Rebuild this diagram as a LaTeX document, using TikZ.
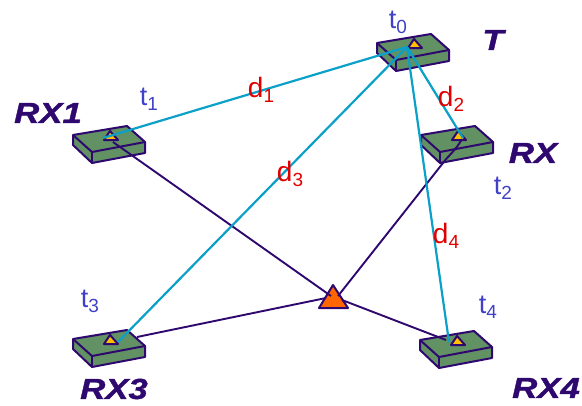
\documentclass[tikz,border=0pt]{standalone}
\usepackage{fontspec}
\setmainfont{Liberation Sans}
\newfontfamily\devfont[FakeBold=1.2]{Liberation Sans}
\usepackage{xcolor}
\usetikzlibrary{positioning}
\definecolor{boxgreen}{RGB}{98,145,100}
\definecolor{darkviolet}{RGB}{46,8,110}
\definecolor{linkblue}{RGB}{10,160,200}
\definecolor{labelblue}{RGB}{64,64,200}
\definecolor{labelred}{RGB}{225,0,0}
\definecolor{antgold}{RGB}{255,192,0}
\definecolor{srcorange}{RGB}{255,102,0}
\newcommand{\lowidx}[2]{#1\raisebox{-0.18em}{\fontsize{19}{19}\selectfont #2}}
\tikzset{
  boxline/.style={draw=darkviolet, line width=2pt, line join=round, fill=boxgreen},
  antenna/.style={draw=darkviolet, line width=2pt, line join=round, fill=antgold},
  linkline/.style={linkblue, line width=2.2pt},
  pathline/.style={darkviolet, line width=1.9pt},
  timelabel/.style={labelblue, font=\fontsize{27}{27}\selectfont, inner sep=0pt},
  distlabel/.style={labelred, font=\fontsize{28}{28}\selectfont, inner sep=0pt},
  devlabel/.style={darkviolet, font=\fontsize{29}{29}\devfont\bfseries\itshape, xscale=1.2, inner sep=0pt},
}
\begin{document}
\begin{tikzpicture}[x=1pt, y=-1pt]
  \useasboundingbox (0,0) rectangle (582,405);
  % boxes
  \foreach \name/\x/\y in {tx/377/43, rxa/73/135, rxb/421/135, rxc/73/339, rxd/420/340} {
    \draw[boxline] (\x,\y) -- (\x+54,\y-9) -- (\x+72,\y+7) -- (\x+72,\y+18) -- (\x+19,\y+28) -- (\x,\y+10) -- cycle;
    \draw[boxline, fill=none] (\x,\y) -- (\x+19,\y+17) -- (\x+72,\y+7);
    \draw[boxline, fill=none] (\x+19,\y+17) -- (\x+19,\y+28);
    \draw[antenna] (\x+37,\y-4) -- (\x+31,\y+5) -- (\x+45,\y+5) -- cycle;
  }
  % connection points
  \coordinate (txo) at (407,47);
  \coordinate (rxaend) at (103,138);
  \coordinate (rxbend) at (463,138);
  \coordinate (rxcend) at (118,342);
  \coordinate (rxdend) at (449,342);
  \coordinate (rxaout) at (113,142);
  \coordinate (rxbout) at (462,139);
  \coordinate (rxcout) at (137,337);
  \coordinate (rxdout) at (446,340);
  % source triangle
  \draw[draw=darkviolet, line width=2pt, fill=srcorange, line join=round] (333,285) -- (319,308) -- (348,308) -- cycle;
  \coordinate (srcw) at (326,298);
  \coordinate (srcn) at (331,296);
  \coordinate (srcm) at (338,296);
  \coordinate (srce) at (342,300);
  % links
  \draw[pathline] (rxaout) -- (srcn);
  \draw[pathline] (rxbout) .. controls (456,150) and (448,156) .. (443,163) -- (srcm);
  \draw[pathline] (rxcout) -- (srcw);
  \draw[pathline] (rxdout) -- (srce);
  \draw[linkline] (txo) -- (rxaend);
  \draw[linkline] (txo) -- (rxbend);
  \draw[linkline] (txo) -- (rxcend);
  \draw[linkline] (txo) -- (rxdend);
  % labels
  \node[timelabel] (t0) at (398,22) {\lowidx{t}{0}};
  \node[timelabel] (t1) at (149,99) {\lowidx{t}{1}};
  \node[timelabel] (t2) at (503,188) {\lowidx{t}{2}};
  \node[timelabel] (t3) at (90,301) {\lowidx{t}{3}};
  \node[timelabel] (t4) at (488,307) {\lowidx{t}{4}};
  \node[distlabel] (d1) at (261,90) {\lowidx{d}{1}};
  \node[distlabel] (d2) at (451,99) {\lowidx{d}{2}};
  \node[distlabel] (d3) at (290,174) {\lowidx{d}{3}};
  \node[distlabel] (d4) at (446,236) {\lowidx{d}{4}};
  \node[devlabel] (devt) at (493,40) {T};
  \node[devlabel] (devrxa) at (48,113) {RX1};
  \node[devlabel] (devrxb) at (533,153) {RX};
  \node[devlabel] (devrxc) at (114,389) {RX3};
  \node[devlabel] (devrxd) at (546,388) {RX4};
\end{tikzpicture}
\end{document}
